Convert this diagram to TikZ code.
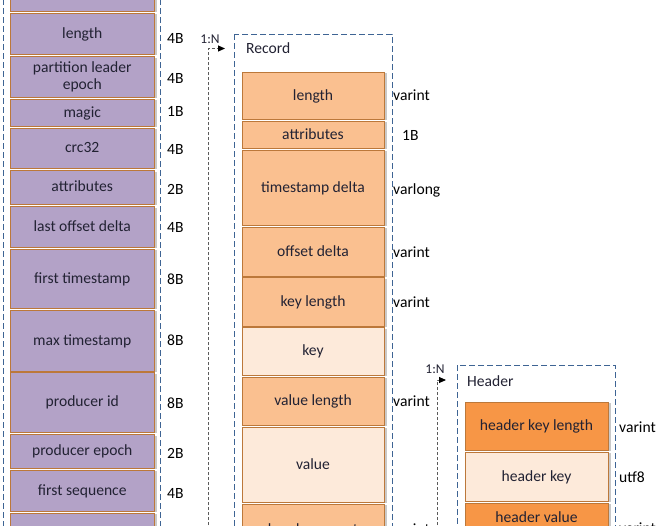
\documentclass[tikz,border=0pt]{standalone}
\usepackage{fontspec}
\setmainfont{Carlito}
\usetikzlibrary{arrows.meta,shadows}
\definecolor{purp}{HTML}{B3A2C7}
\definecolor{lorange}{HTML}{FAC090}
\definecolor{vlorange}{HTML}{FDEADA}
\definecolor{dorange}{HTML}{F79646}
\definecolor{brd}{HTML}{BC783A}
\definecolor{cont}{HTML}{3E6494}
\definecolor{conn}{HTML}{5A5A5A}
\definecolor{txt}{HTML}{222233}
\begin{document}
\begin{tikzpicture}[x=1pt,y=-1pt,
  every node/.style={font=\fontsize{15.6}{17.5}\selectfont, text=txt},
  fld/.style={draw=brd, line width=0.9pt, anchor=north west, inner sep=0pt, outer sep=0pt,
    align=center, text height=0.9em, text depth=0em,
    drop shadow={shadow xshift=2.5pt, shadow yshift=-1pt, opacity=0.3, fill=black!70}},
  lft/.style={fld, fill=purp, minimum width=143.5pt},
  rec/.style={fld, fill=lorange, minimum width=142pt},
  recl/.style={fld, fill=vlorange, minimum width=142pt},
  hdr/.style={fld, fill=dorange, minimum width=143pt},
  hdrl/.style={fld, fill=vlorange, minimum width=143pt},
  lab/.style={anchor=west, inner sep=0pt, text=black, text height=0.644em, text depth=0pt, yshift=-2pt},
  container/.style={draw=cont, line width=0.9pt, dash pattern=on 6pt off 3pt},
  rel/.style={draw=conn, line width=0.9pt, dash pattern=on 3pt off 2pt,
    -{Triangle[length=7pt,width=6pt,color=black]}},
  card/.style={font=\fontsize{13.5}{14}\selectfont, inner sep=0pt, text=txt, text height=0.644em, text depth=0pt, yshift=-1.5pt},
  ctitle/.style={anchor=west, inner sep=0pt, text=txt, text height=0.644em, text depth=0pt, yshift=-2pt}
]
\useasboundingbox (0,0) rectangle (663,525);
\clip (0,0) rectangle (663,525);

% containers
\draw[container] (3,-10) rectangle (160,540);
\draw[container] (234,34) rectangle (392,540);
\draw[container] (457,365) rectangle (615,540);
\node[ctitle] (rectitle) at (246,48) {Record};
\node[ctitle] (hdrtitle) at (467,381) {Header};

% left column
\node[lft, minimum height=21pt] (lc0) at (10.5,-10) {};
\node[lft, minimum height=41pt] (lc1) at (10.5,13) {length};
\node[lft, minimum height=40.5pt, text height=, text depth=] (lc2) at (10.5,56.5) {partition leader\\epoch};
\node[lft, minimum height=27pt] (lc3) at (10.5,99) {magic};
\node[lft, minimum height=40pt] (lc4) at (10.5,128) {crc32};
\node[lft, minimum height=33.5pt] (lc5) at (10.5,170.5) {attributes};
\node[lft, minimum height=40.5pt] (lc6) at (10.5,206.5) {last offset delta};
\node[lft, minimum height=59pt] (lc7) at (10.5,249) {first timestamp};
\node[lft, minimum height=61pt] (lc8) at (10.5,310) {max timestamp};
\node[lft, minimum height=59.5pt] (lc9) at (10.5,372.5) {producer id};
\node[lft, minimum height=33.5pt] (lc10) at (10.5,434.5) {producer epoch};
\node[lft, minimum height=41pt] (lc11) at (10.5,470) {first sequence};
\node[lft, minimum height=30pt] (lc12) at (10.5,513) {};

\node[lab] (ll1) at (167,38) {4B};
\node[lab] (ll2) at (167,78) {4B};
\node[lab] (ll3) at (167,111) {1B};
\node[lab] (ll4) at (167,149) {4B};
\node[lab] (ll5) at (167,189) {2B};
\node[lab] (ll6) at (167,227) {4B};
\node[lab] (ll7) at (167,279) {8B};
\node[lab] (ll8) at (167,340) {8B};
\node[lab] (ll9) at (167,403) {8B};
\node[lab] (ll10) at (167,453) {2B};
\node[lab] (ll11) at (167,493) {4B};

% record column
\node[rec, minimum height=47pt] (r1) at (242,72) {length};
\node[rec, minimum height=27pt] (r2) at (242,121) {attributes};
\node[rec, minimum height=75pt] (r3) at (242,150) {timestamp delta};
\node[rec, minimum height=49pt] (r4) at (242,227) {offset delta};
\node[rec, minimum height=48.5pt] (r5) at (242,277.5) {key length};
\node[recl, minimum height=47.5pt] (r6) at (242,327.5) {key};
\node[rec, minimum height=48pt] (r7) at (242,377) {value length};
\node[recl, minimum height=75pt] (r8) at (242,427) {value};
\node[rec, minimum height=52pt] (r9) at (242,504) {headers count};

\node[lab] (rl1) at (393,95) {varint};
\node[lab] (rl2) at (402,135) {1B};
\node[lab] (rl3) at (393,189) {varlong};
\node[lab] (rl4) at (393,252) {varint};
\node[lab] (rl5) at (393,302) {varint};
\node[lab] (rl7) at (393,401) {varint};
\node[lab] (rl9) at (393,529) {varint};

% header column
\node[hdr, minimum height=48pt] (h1) at (465,402) {header key length};
\node[hdrl, minimum height=49pt] (h2) at (465,452) {header key};
\node[hdr, minimum height=30pt] (h3) at (465,503) {header value};

\node[lab] (hl1) at (619,427) {varint};
\node[lab] (hl2) at (619,477) {utf8};
\node[lab] (hl3) at (619,528) {varint};

% 1:N connectors
\coordinate (c1s) at (208,540);
\coordinate (c1e) at (225,48.5);
\draw[rel] (c1s) |- (c1e);
\node[card] (card1) at (210,39) {1:N};

\coordinate (c2s) at (437,540);
\coordinate (c2e) at (446,380);
\draw[rel] (c2s) |- (c2e);
\node[card] (card2) at (435,369) {1:N};
\end{tikzpicture}
\end{document}
